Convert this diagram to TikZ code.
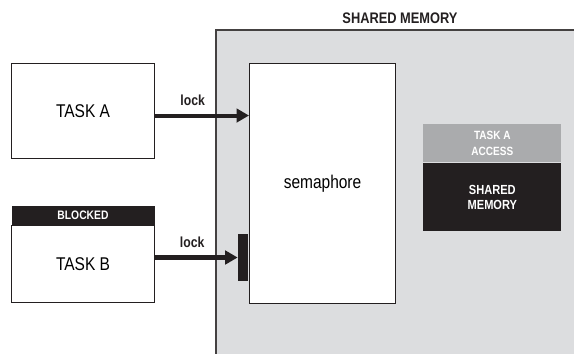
\documentclass[tikz,border=0pt]{standalone}
\usepackage{fontspec}
\setmainfont{Liberation Sans}[FakeStretch=0.84]
\definecolor{memgray}{RGB}{220, 221, 223}
\definecolor{accessgray}{RGB}{170, 171, 173}
\definecolor{ink}{RGB}{35, 31, 32}
\usetikzlibrary{arrows.meta, positioning}

\begin{document}
\begin{tikzpicture}[
        x=0.02cm, y=-0.02cm,
        region/.style={rectangle, fill=memgray, inner sep=0pt, minimum width=7.2cm, minimum height=6.6cm},
        edge/.style={draw=ink!85, line width=0.8pt},
        task/.style={rectangle, draw=ink, line width=0.6pt, fill=white, inner sep=0pt, minimum width=2.86cm, font=\fontsize{10.5}{12}\selectfont},
        sem/.style={rectangle, draw=ink, line width=0.6pt, fill=white, inner sep=0pt, minimum width=2.92cm, minimum height=4.8cm, font=\fontsize{10.5}{12}\selectfont},
        blockedbar/.style={rectangle, fill=ink, text=white, inner sep=0pt, minimum width=2.86cm, minimum height=0.38cm, font=\fontsize{7}{8}\selectfont\bfseries},
        access/.style={rectangle, fill=accessgray, text=white, align=center, inner sep=0pt, minimum width=2.76cm, minimum height=0.76cm, font=\fontsize{6.8}{9.4}\selectfont\bfseries},
        memblock/.style={rectangle, fill=ink, text=white, align=center, inner sep=0pt, minimum width=2.76cm, minimum height=1.36cm, font=\fontsize{7.5}{8.5}\selectfont\bfseries},
        lockbar/.style={rectangle, fill=ink, inner sep=0pt, minimum width=0.2cm, minimum height=0.94cm},
        title/.style={font=\fontsize{8.7}{10}\selectfont\bfseries, text=ink},
        lbl/.style={font=\fontsize{8.3}{10}\selectfont\bfseries, text=ink},
        lockarrow/.style={-{Triangle[length=2.5mm, width=2.7mm]}, line width=2.3pt, draw=ink}
    ]
        \useasboundingbox (0,0) rectangle (574,353);

        % shared memory area
        \node[region, anchor=north west] (shm) at (216,30) {};
        \draw[edge] (shm.south west) -- (shm.north west) -- (shm.north east);
        \node[title] (shmtitle) at (400,18) {SHARED MEMORY};

        \node[sem, anchor=north west] (sem) at (249,63) {semaphore};

        \node[access, anchor=north west] (access) at (423,124) {TASK A\\ACCESS};
        \node[memblock, below=0cm of access] (mem) {SHARED\\MEMORY};

        % tasks
        \node[task, minimum height=1.9cm, anchor=north west] (taskA) at (11,63) {TASK A};
        \node[task, minimum height=1.54cm, anchor=north west] (taskB) at (11,225) {TASK B};
        \node[blockedbar, above=0cm of taskB] (blocked) {BLOCKED};

        \node[lockbar] (lock) at (243,257.5) {};

        \draw[lockarrow] ([yshift=-0.09cm]taskA.east) -- node[lbl, pos=0.4, above=1pt]{lock} ([yshift=-0.09cm]taskA.east -| sem.west);
        \draw[lockarrow] (lock.west -| taskB.east) -- node[lbl, pos=0.45, above=1pt]{lock} (lock.west);
    \end{tikzpicture}
\end{document}
